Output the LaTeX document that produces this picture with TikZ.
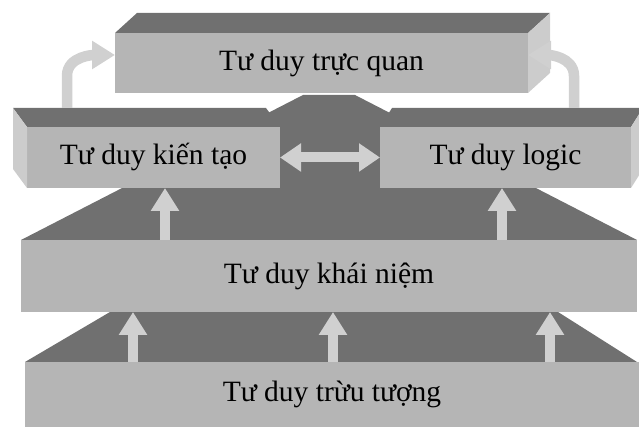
\documentclass[tikz,border=0pt]{standalone}
\usepackage{fontspec}
\setmainfont{Liberation Serif}
\usetikzlibrary{arrows.meta, calc}
\definecolor{slabfront}{RGB}{181, 181, 181}
\definecolor{slabtop}{RGB}{112, 112, 112}
\definecolor{slabside}{RGB}{204, 204, 204}
\definecolor{arrowgray}{RGB}{208, 208, 208}

\begin{document}
\begin{tikzpicture}[
    x=1pt, y=1pt,
    front/.style={fill=slabfront, draw=none, inner sep=0pt, outer sep=0pt, font=\fontsize{29.5}{34}\selectfont},
    topface/.style={fill=slabtop},
    sideface/.style={fill=slabside},
    fatarrow/.style={draw=arrowgray, line width=10.5pt, -{Triangle[length=23pt, width=27pt]}},
    fatboth/.style={draw=arrowgray, line width=10pt, {Triangle[length=21pt, width=27pt]}-{Triangle[length=21pt, width=27pt]}}
]
    \useasboundingbox (0,0) rectangle (639,427);

    % Bottom layer
    \fill[topface] (25,65) -- (110,115) -- (558,115) -- (637,65) -- cycle;
    \node[front, minimum width=614pt, minimum height=65pt] (abstract) at (332,32.5) {Tư duy trừu tượng};

    % Middle layer
    \node[front, minimum width=616pt, minimum height=72pt] (concept) at (329,151) {Tư duy khái niệm};
    \fill[topface] (concept.north west) -- (303,332) -- (355,332) -- (concept.north east) -- cycle;
    \foreach \x in {133,333,550}
        \draw[fatarrow] (\x,0 |- abstract.north) -- (\x,0 |- concept.south);

    % Upper layer - left and right
    \node[front, minimum width=253pt, minimum height=61pt] (construct) at (153.5,269.5) {Tư duy kiến tạo};
    \coordinate (ktback) at ($(construct.north west)+(-14,19)$);
    \fill[topface] (construct.north west) -- (ktback) -- ($(construct.north east)+(-14,19)$) -- (construct.north east) -- cycle;
    \fill[sideface] (construct.north west) -- (ktback) -- ++(0,-61) -- (construct.south west) -- cycle;

    \node[front, minimum width=251pt, minimum height=61pt] (logic) at (505.5,269.5) {Tư duy logic};
    \coordinate (lgback) at ($(logic.north east)+(12,19)$);
    \fill[topface] (logic.north west) -- ($(logic.north west)+(12,19)$) -- (lgback) -- (logic.north east) -- cycle;
    \fill[sideface] (logic.north east) -- (lgback) -- ++(0,-61) -- (logic.south east) -- cycle;

    \foreach \x in {165,502}
        \draw[fatarrow] (\x,0 |- concept.north) -- (\x,0 |- construct.south);

    % Top layer
    \node[front, minimum width=413pt, minimum height=60pt] (visual) at (321.5,364) {Tư duy trực quan};
    \fill[topface] (visual.north west) -- ++(22,20) -- ($(visual.north east)+(22,20)$) -- (visual.north east) -- cycle;
    \fill[sideface] (visual.north east) -- ++(22,20) -- ++(0,-60) -- (visual.south east) -- cycle;

    % Arrows
    \draw[fatboth] (construct.east) -- (logic.west);
    \draw[fatarrow] ([xshift=54pt]ktback) -- ++(0,32) to[out=90, in=180] ([yshift=8pt]visual.west);
    \draw[fatarrow] ([xshift=-69pt]lgback) -- ++(0,32) to[out=90, in=0] ([yshift=8pt]visual.east);
\end{tikzpicture}
\end{document}
